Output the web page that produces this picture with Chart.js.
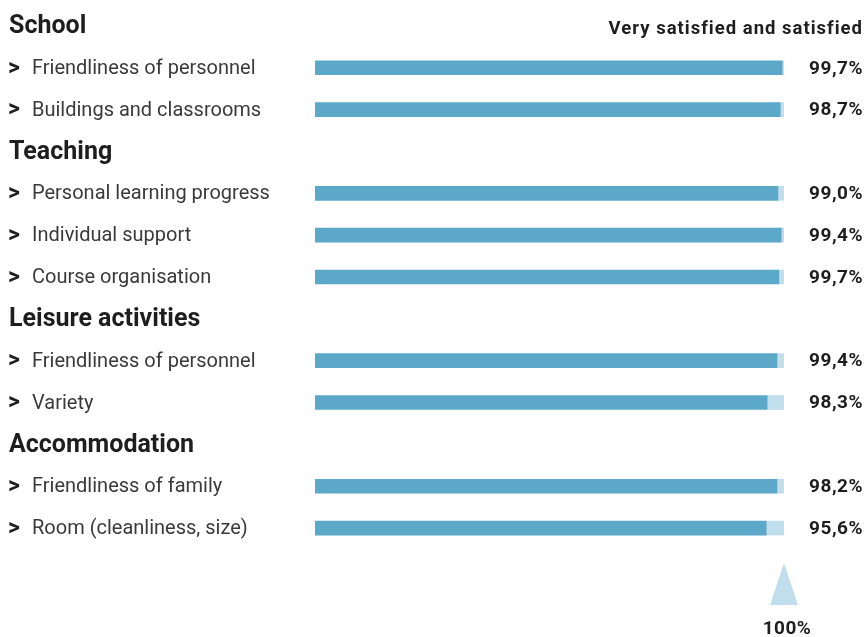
<!DOCTYPE html>
<html>
<head>
<meta charset="utf-8">
<script src="https://cdn.jsdelivr.net/npm/chart.js@4"></script>
<style>
  html, body { margin: 0; padding: 0; background: #fff; }
  #wrap { width: 865px; height: 637px; position: relative; }
</style>
</head>
<body>
<div id="wrap"><canvas id="chart"></canvas></div>
<script>
// rows of the survey, headers are the group titles
const labels = ['School', 'Friendliness of personnel', 'Buildings and classrooms',
                'Teaching', 'Personal learning progress', 'Individual support', 'Course organisation',
                'Leisure activities', 'Friendliness of personnel', 'Variety',
                'Accommodation', 'Friendliness of family', 'Room (cleanliness, size)'];
const isHeader = [true, false, false, true, false, false, false, true, false, false, true, false, false];
// length of the dark bar
const satisfied = [null, 99.6, 99.2, null, 98.7, 99.4, 98.9, null, 98.5, 96.4, null, 98.5, 96.2];
// printed values on the right
const valueLabels = ['', '99,7%', '98,7%', '', '99,0%', '99,4%', '99,7%', '', '99,4%', '98,3%', '', '98,2%', '95,6%'];
const seriesTitle = 'Very satisfied and satisfied';
const fullMark = 100;

const darkBlue = 'rgb(91, 168, 200)';
const lightBlue = 'rgb(192, 222, 235)';

const textPlugin = {
    id: 'rowText',
    afterDraw(chart) {
        const ctx = chart.ctx;
        const y = chart.scales.y;
        const x = chart.scales.x;
        ctx.save();
        ctx.textBaseline = 'middle';
        labels.forEach(function(label, i) {
            const py = y.getPixelForValue(i) + 1;
            ctx.letterSpacing = '0px';
            if (isHeader[i]) {
                ctx.fillStyle = '#1e1e1e';
                ctx.font = 'bold 25px Roboto';
                ctx.textAlign = 'left';
                ctx.fillText(label, 9, py);
            } else {
                ctx.fillStyle = '#1e1e1e';
                ctx.font = 'bold 23px Roboto';
                ctx.textAlign = 'left';
                ctx.fillText('>', 8, py);
                ctx.fillStyle = '#3a3a3a';
                ctx.font = '20px Roboto';
                ctx.fillText(label, 32, py);
                ctx.fillStyle = '#1e1e1e';
                ctx.font = 'bold 19px Roboto';
                ctx.letterSpacing = '0.5px';
                ctx.textAlign = 'right';
                ctx.fillText(valueLabels[i], 863, py);
            }
        });
        // column title
        ctx.fillStyle = '#1e1e1e';
        ctx.font = 'bold 18.5px Roboto';
        ctx.letterSpacing = '1px';
        ctx.textAlign = 'right';
        ctx.fillText(seriesTitle, 863, y.getPixelForValue(0) + 3);
        // 100% marker under the bars
        const px = x.getPixelForValue(fullMark);
        ctx.fillStyle = lightBlue;
        ctx.beginPath();
        ctx.moveTo(px, 563);
        ctx.lineTo(px - 14, 605);
        ctx.lineTo(px + 14, 605);
        ctx.closePath();
        ctx.fill();
        ctx.fillStyle = '#1e1e1e';
        ctx.font = 'bold 19px Roboto';
        ctx.letterSpacing = '0.5px';
        ctx.textAlign = 'center';
        ctx.fillText(fullMark + '%', px + 3, 629);
        ctx.restore();
    }
};

new Chart(document.getElementById('chart').getContext('2d'), {
    type: 'bar',
    data: {
        labels: labels,
        datasets: [{
            data: satisfied,
            backgroundColor: darkBlue,
            barThickness: 14,
            borderWidth: 0
        }, {
            data: satisfied.map(function(v) { return v == null ? null : fullMark - v; }),
            backgroundColor: lightBlue,
            barThickness: 14,
            borderWidth: 0
        }]
    },
    options: {
        indexAxis: 'y',
        responsive: true,
        maintainAspectRatio: false,
        animation: false,
        layout: { padding: { left: 315, right: 81, top: 5, bottom: 88 } },
        plugins: { legend: { display: false }, tooltip: { enabled: false } },
        scales: {
            x: { stacked: true, min: 0, max: 100, display: false },
            y: { stacked: true, display: false, grid: { display: false } }
        }
    },
    plugins: [textPlugin]
});
</script>
</body>
</html>
